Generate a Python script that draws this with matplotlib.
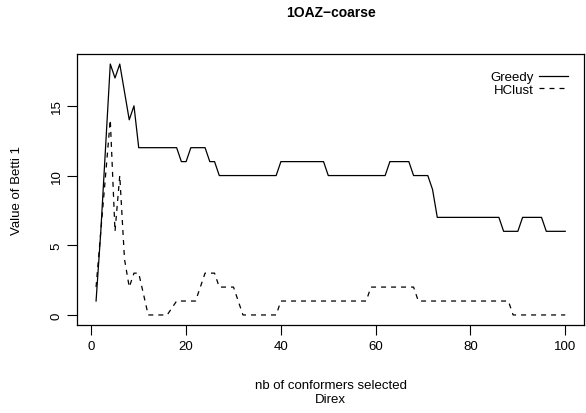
import matplotlib
matplotlib.use("Agg")
import matplotlib.pyplot as plt

plt.rcParams["font.family"] = "Liberation Sans"

# ── Data ────────────────────────────────────────────────────────────────
greedy_x = [1, 2, 3, 4, 5, 6, 7, 8, 9, 10, 18, 19, 20, 21, 24, 25, 26, 27, 39, 40,
            49, 50, 62, 63, 67, 68, 70, 71, 72, 73, 86, 87, 90, 91, 95, 96, 100]
greedy_y = [1, 6, 12, 18, 17, 18, 16, 14, 15, 12, 12, 11, 11, 12, 12, 11, 11, 10, 10, 11,
            11, 10, 10, 11, 11, 10, 10, 10, 9, 7, 7, 6, 6, 7, 7, 6, 6]

hclust_x = [1, 2, 3, 4, 5, 6, 7, 8, 9, 10, 11, 12, 16, 17, 18, 21, 22, 23, 24, 26, 27,
            30, 31, 32, 39, 40, 58, 59, 68, 69, 88, 89, 100]
hclust_y = [2, 6, 10, 14, 6, 10, 4, 2, 3, 3, 1.5, 0, 0, 0.5, 1, 1, 1, 2, 3, 3, 2,
            2, 1, 0, 0, 1, 1, 2, 2, 1, 1, 0, 0]

# ── Plot ────────────────────────────────────────────────────────────────
fig = plt.figure(figsize=(5.86, 4.14), dpi=100)
ax = fig.add_axes([77.3 / 586, 1 - 326 / 414, (584 - 77.3) / 586, (326 - 55) / 414])

ax.plot(greedy_x, greedy_y, color="black", linewidth=0.9, label="Greedy")
ax.plot(hclust_x, hclust_y, color="black", linewidth=0.9, linestyle=(0, (4, 4)), label="HClust")

ax.set_xlim(-2.96, 103.96)
ax.set_ylim(-0.72, 18.72)
ax.set_xticks([0, 20, 40, 60, 80, 100])
ax.set_yticks([0, 5, 10, 15])
ax.tick_params(axis="both", labelsize=9.5, length=7, width=0.8)
for lab in ax.get_yticklabels():
    lab.set_rotation(90)
    lab.set_va("center")

for s in ax.spines.values():
    s.set_linewidth(0.9)

ax.set_title("1OAZ\u2212coarse", fontsize=10, fontweight="bold", pad=27)
ax.set_xlabel("nb of conformers selected\nDirex", fontsize=9.5, labelpad=20, linespacing=1.2)
ax.set_ylabel("Value of Betti 1", fontsize=9.5, labelpad=20)

ax.legend(loc="upper right", frameon=False, fontsize=9.5, markerfirst=False,
          handlelength=2.2, handletextpad=0.4, labelspacing=0.0,
          borderaxespad=0.6, bbox_to_anchor=(0.995, 0.985))
for t in ax.get_legend().get_texts():
    t.set_ha("right")

fig.savefig("out.png", dpi=100, facecolor="white")
